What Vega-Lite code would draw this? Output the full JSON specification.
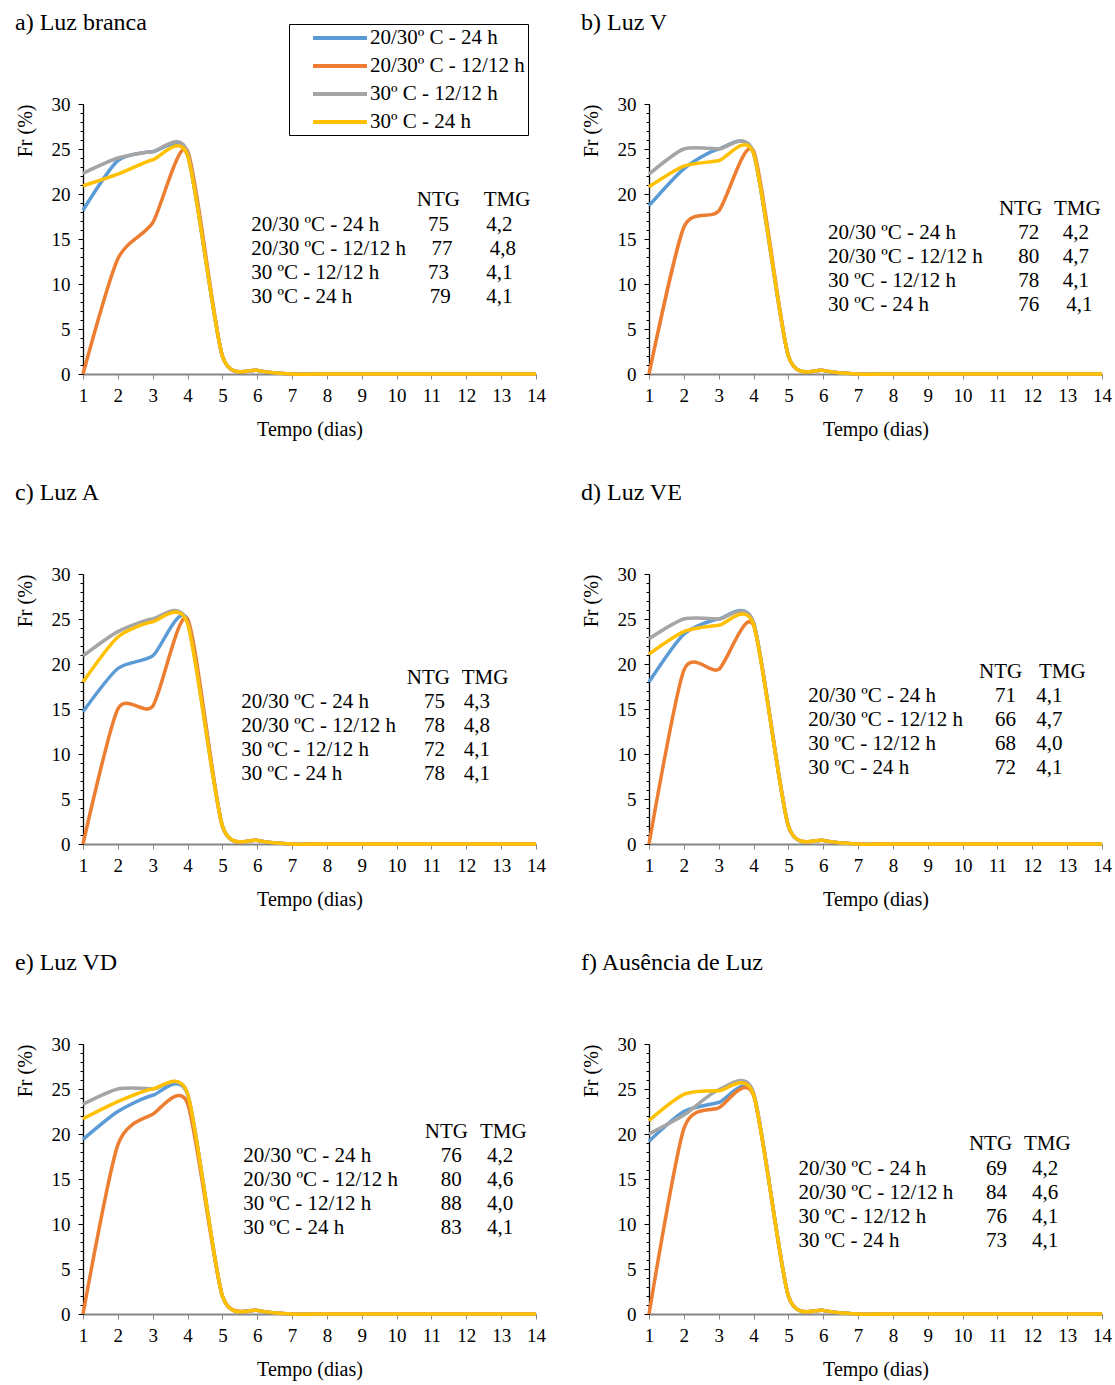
{
"$schema": "https://vega.github.io/schema/vega-lite/v6.json",
"background": "white",
"padding": {"left": 15, "top": 10, "right": 5, "bottom": 2},
"datasets": {
"lines": [
{"p":"a","d":1,"B":18.2,"O":0,"G":22.3,"Y":20.9},{"p":"a","d":2,"B":23.7,"O":12.8,"G":24.0,"Y":22.2},{"p":"a","d":3,"B":24.7,"O":16.8,"G":24.7,"Y":23.8},{"p":"a","d":4,"B":24.3,"O":24.8,"G":24.6,"Y":24.3},{"p":"a","d":5,"B":2.0,"O":2.0,"G":2.0,"Y":2.0},{"p":"a","d":6,"B":0.4,"O":0.4,"G":0.4,"Y":0.4},{"p":"a","d":7,"B":0,"O":0,"G":0,"Y":0},{"p":"a","d":8,"B":0,"O":0,"G":0,"Y":0},{"p":"a","d":9,"B":0,"O":0,"G":0,"Y":0},{"p":"a","d":10,"B":0,"O":0,"G":0,"Y":0},{"p":"a","d":11,"B":0,"O":0,"G":0,"Y":0},{"p":"a","d":12,"B":0,"O":0,"G":0,"Y":0},{"p":"a","d":13,"B":0,"O":0,"G":0,"Y":0},{"p":"a","d":14,"B":0,"O":0,"G":0,"Y":0},
{"p":"b","d":1,"B":18.7,"O":0,"G":22.2,"Y":20.8},{"p":"b","d":2,"B":22.8,"O":16.3,"G":25.0,"Y":23.1},{"p":"b","d":3,"B":25.0,"O":18.1,"G":25.0,"Y":23.7},{"p":"b","d":4,"B":24.5,"O":24.8,"G":24.6,"Y":24.5},{"p":"b","d":5,"B":2.0,"O":2.0,"G":2.0,"Y":2.0},{"p":"b","d":6,"B":0.4,"O":0.4,"G":0.4,"Y":0.4},{"p":"b","d":7,"B":0,"O":0,"G":0,"Y":0},{"p":"b","d":8,"B":0,"O":0,"G":0,"Y":0},{"p":"b","d":9,"B":0,"O":0,"G":0,"Y":0},{"p":"b","d":10,"B":0,"O":0,"G":0,"Y":0},{"p":"b","d":11,"B":0,"O":0,"G":0,"Y":0},{"p":"b","d":12,"B":0,"O":0,"G":0,"Y":0},{"p":"b","d":13,"B":0,"O":0,"G":0,"Y":0},{"p":"b","d":14,"B":0,"O":0,"G":0,"Y":0},
{"p":"c","d":1,"B":14.7,"O":0,"G":20.9,"Y":18.0},{"p":"c","d":2,"B":19.5,"O":15.0,"G":23.6,"Y":23.0},{"p":"c","d":3,"B":20.9,"O":15.3,"G":25.0,"Y":24.7},{"p":"c","d":4,"B":24.9,"O":25.0,"G":24.6,"Y":24.5},{"p":"c","d":5,"B":2.0,"O":2.0,"G":2.0,"Y":2.0},{"p":"c","d":6,"B":0.4,"O":0.4,"G":0.4,"Y":0.4},{"p":"c","d":7,"B":0,"O":0,"G":0,"Y":0},{"p":"c","d":8,"B":0,"O":0,"G":0,"Y":0},{"p":"c","d":9,"B":0,"O":0,"G":0,"Y":0},{"p":"c","d":10,"B":0,"O":0,"G":0,"Y":0},{"p":"c","d":11,"B":0,"O":0,"G":0,"Y":0},{"p":"c","d":12,"B":0,"O":0,"G":0,"Y":0},{"p":"c","d":13,"B":0,"O":0,"G":0,"Y":0},{"p":"c","d":14,"B":0,"O":0,"G":0,"Y":0},
{"p":"d","d":1,"B":18.0,"O":0,"G":22.8,"Y":21.1},{"p":"d","d":2,"B":23.3,"O":19.3,"G":25.0,"Y":23.6},{"p":"d","d":3,"B":25.0,"O":19.4,"G":25.0,"Y":24.3},{"p":"d","d":4,"B":24.6,"O":24.3,"G":24.6,"Y":24.4},{"p":"d","d":5,"B":2.0,"O":2.0,"G":2.0,"Y":2.0},{"p":"d","d":6,"B":0.4,"O":0.4,"G":0.4,"Y":0.4},{"p":"d","d":7,"B":0,"O":0,"G":0,"Y":0},{"p":"d","d":8,"B":0,"O":0,"G":0,"Y":0},{"p":"d","d":9,"B":0,"O":0,"G":0,"Y":0},{"p":"d","d":10,"B":0,"O":0,"G":0,"Y":0},{"p":"d","d":11,"B":0,"O":0,"G":0,"Y":0},{"p":"d","d":12,"B":0,"O":0,"G":0,"Y":0},{"p":"d","d":13,"B":0,"O":0,"G":0,"Y":0},{"p":"d","d":14,"B":0,"O":0,"G":0,"Y":0},
{"p":"e","d":1,"B":19.4,"O":0,"G":23.3,"Y":21.7},{"p":"e","d":2,"B":22.5,"O":18.8,"G":25.0,"Y":23.6},{"p":"e","d":3,"B":24.3,"O":22.2,"G":25.0,"Y":25.0},{"p":"e","d":4,"B":24.4,"O":23.4,"G":24.5,"Y":24.5},{"p":"e","d":5,"B":2.0,"O":2.0,"G":2.0,"Y":2.0},{"p":"e","d":6,"B":0.4,"O":0.4,"G":0.4,"Y":0.4},{"p":"e","d":7,"B":0,"O":0,"G":0,"Y":0},{"p":"e","d":8,"B":0,"O":0,"G":0,"Y":0},{"p":"e","d":9,"B":0,"O":0,"G":0,"Y":0},{"p":"e","d":10,"B":0,"O":0,"G":0,"Y":0},{"p":"e","d":11,"B":0,"O":0,"G":0,"Y":0},{"p":"e","d":12,"B":0,"O":0,"G":0,"Y":0},{"p":"e","d":13,"B":0,"O":0,"G":0,"Y":0},{"p":"e","d":14,"B":0,"O":0,"G":0,"Y":0},
{"p":"f","d":1,"B":19.2,"O":0,"G":20.0,"Y":21.5},{"p":"f","d":2,"B":22.5,"O":20.6,"G":22.1,"Y":24.4},{"p":"f","d":3,"B":23.5,"O":22.9,"G":24.9,"Y":24.8},{"p":"f","d":4,"B":24.4,"O":24.3,"G":24.6,"Y":24.4},{"p":"f","d":5,"B":2.0,"O":2.0,"G":2.0,"Y":2.0},{"p":"f","d":6,"B":0.4,"O":0.4,"G":0.4,"Y":0.4},{"p":"f","d":7,"B":0,"O":0,"G":0,"Y":0},{"p":"f","d":8,"B":0,"O":0,"G":0,"Y":0},{"p":"f","d":9,"B":0,"O":0,"G":0,"Y":0},{"p":"f","d":10,"B":0,"O":0,"G":0,"Y":0},{"p":"f","d":11,"B":0,"O":0,"G":0,"Y":0},{"p":"f","d":12,"B":0,"O":0,"G":0,"Y":0},{"p":"f","d":13,"B":0,"O":0,"G":0,"Y":0},{"p":"f","d":14,"B":0,"O":0,"G":0,"Y":0}
],
"tbl": [
{"p":"a","k":"N","x":11.2,"y":19.33,"t":"NTG"},{"p":"a","k":"N","x":13.17,"y":19.33,"t":"TMG"},
{"p":"a","k":"L","x":5.83,"y":16.56,"t":"20/30 ºC - 24 h"},{"p":"a","k":"L","x":5.83,"y":13.89,"t":"20/30 ºC - 12/12 h"},{"p":"a","k":"L","x":5.83,"y":11.22,"t":"30 ºC  - 12/12 h"},{"p":"a","k":"L","x":5.83,"y":8.56,"t":"30 ºC - 24 h"},
{"p":"a","k":"N","x":11.2,"y":16.56,"t":"75"},{"p":"a","k":"N","x":11.3,"y":13.89,"t":"77"},{"p":"a","k":"N","x":11.2,"y":11.22,"t":"73"},{"p":"a","k":"N","x":11.25,"y":8.56,"t":"79"},
{"p":"a","k":"N","x":12.95,"y":16.56,"t":"4,2"},{"p":"a","k":"N","x":13.05,"y":13.89,"t":"4,8"},{"p":"a","k":"N","x":12.95,"y":11.22,"t":"4,1"},{"p":"a","k":"N","x":12.95,"y":8.56,"t":"4,1"},
{"p":"b","k":"N","x":11.66,"y":18.33,"t":"NTG"},{"p":"b","k":"N","x":13.29,"y":18.33,"t":"TMG"},
{"p":"b","k":"L","x":6.14,"y":15.67,"t":"20/30 ºC - 24 h"},{"p":"b","k":"L","x":6.14,"y":13.0,"t":"20/30 ºC - 12/12 h"},{"p":"b","k":"L","x":6.14,"y":10.33,"t":"30 ºC  - 12/12 h"},{"p":"b","k":"L","x":6.14,"y":7.67,"t":"30 ºC - 24 h"},
{"p":"b","k":"N","x":11.9,"y":15.67,"t":"72"},{"p":"b","k":"N","x":11.9,"y":13.0,"t":"80"},{"p":"b","k":"N","x":11.9,"y":10.33,"t":"78"},{"p":"b","k":"N","x":11.9,"y":7.67,"t":"76"},
{"p":"b","k":"N","x":13.25,"y":15.67,"t":"4,2"},{"p":"b","k":"N","x":13.25,"y":13.0,"t":"4,7"},{"p":"b","k":"N","x":13.25,"y":10.33,"t":"4,1"},{"p":"b","k":"N","x":13.35,"y":7.67,"t":"4,1"},
{"p":"c","k":"N","x":10.91,"y":18.44,"t":"NTG"},{"p":"c","k":"N","x":12.54,"y":18.44,"t":"TMG"},
{"p":"c","k":"L","x":5.54,"y":15.78,"t":"20/30 ºC - 24 h"},{"p":"c","k":"L","x":5.54,"y":13.11,"t":"20/30 ºC - 12/12 h"},{"p":"c","k":"L","x":5.54,"y":10.44,"t":"30 ºC  - 12/12 h"},{"p":"c","k":"L","x":5.54,"y":7.78,"t":"30 ºC - 24 h"},
{"p":"c","k":"N","x":11.09,"y":15.78,"t":"75"},{"p":"c","k":"N","x":11.09,"y":13.11,"t":"78"},{"p":"c","k":"N","x":11.09,"y":10.44,"t":"72"},{"p":"c","k":"N","x":11.09,"y":7.78,"t":"78"},
{"p":"c","k":"N","x":12.3,"y":15.78,"t":"4,3"},{"p":"c","k":"N","x":12.3,"y":13.11,"t":"4,8"},{"p":"c","k":"N","x":12.3,"y":10.44,"t":"4,1"},{"p":"c","k":"N","x":12.3,"y":7.78,"t":"4,1"},
{"p":"d","k":"N","x":11.09,"y":19.11,"t":"NTG"},{"p":"d","k":"N","x":12.86,"y":19.11,"t":"TMG"},
{"p":"d","k":"L","x":5.57,"y":16.44,"t":"20/30 ºC - 24 h"},{"p":"d","k":"L","x":5.57,"y":13.78,"t":"20/30 ºC - 12/12 h"},{"p":"d","k":"L","x":5.57,"y":11.11,"t":"30 ºC  - 12/12 h"},{"p":"d","k":"L","x":5.57,"y":8.44,"t":"30 ºC - 24 h"},
{"p":"d","k":"N","x":11.23,"y":16.44,"t":"71"},{"p":"d","k":"N","x":11.23,"y":13.78,"t":"66"},{"p":"d","k":"N","x":11.23,"y":11.11,"t":"68"},{"p":"d","k":"N","x":11.23,"y":8.44,"t":"72"},
{"p":"d","k":"N","x":12.49,"y":16.44,"t":"4,1"},{"p":"d","k":"N","x":12.49,"y":13.78,"t":"4,7"},{"p":"d","k":"N","x":12.49,"y":11.11,"t":"4,0"},{"p":"d","k":"N","x":12.49,"y":8.44,"t":"4,1"},
{"p":"e","k":"N","x":11.43,"y":20.22,"t":"NTG"},{"p":"e","k":"N","x":13.06,"y":20.22,"t":"TMG"},
{"p":"e","k":"L","x":5.6,"y":17.56,"t":"20/30 ºC - 24 h"},{"p":"e","k":"L","x":5.6,"y":14.89,"t":"20/30 ºC - 12/12 h"},{"p":"e","k":"L","x":5.6,"y":12.22,"t":"30 ºC  - 12/12 h"},{"p":"e","k":"L","x":5.6,"y":9.56,"t":"30 ºC - 24 h"},
{"p":"e","k":"N","x":11.57,"y":17.56,"t":"76"},{"p":"e","k":"N","x":11.57,"y":14.89,"t":"80"},{"p":"e","k":"N","x":11.57,"y":12.22,"t":"88"},{"p":"e","k":"N","x":11.57,"y":9.56,"t":"83"},
{"p":"e","k":"N","x":12.97,"y":17.56,"t":"4,2"},{"p":"e","k":"N","x":12.97,"y":14.89,"t":"4,6"},{"p":"e","k":"N","x":12.97,"y":12.22,"t":"4,0"},{"p":"e","k":"N","x":12.97,"y":9.56,"t":"4,1"},
{"p":"f","k":"N","x":10.8,"y":18.89,"t":"NTG"},{"p":"f","k":"N","x":12.43,"y":18.89,"t":"TMG"},
{"p":"f","k":"L","x":5.29,"y":16.11,"t":"20/30 ºC - 24 h"},{"p":"f","k":"L","x":5.29,"y":13.44,"t":"20/30 ºC - 12/12 h"},{"p":"f","k":"L","x":5.29,"y":10.78,"t":"30 ºC  - 12/12 h"},{"p":"f","k":"L","x":5.29,"y":8.11,"t":"30 ºC - 24 h"},
{"p":"f","k":"N","x":10.97,"y":16.11,"t":"69"},{"p":"f","k":"N","x":10.97,"y":13.44,"t":"84"},{"p":"f","k":"N","x":10.97,"y":10.78,"t":"76"},{"p":"f","k":"N","x":10.97,"y":8.11,"t":"73"},
{"p":"f","k":"N","x":12.37,"y":16.11,"t":"4,2"},{"p":"f","k":"N","x":12.37,"y":13.44,"t":"4,6"},{"p":"f","k":"N","x":12.37,"y":10.78,"t":"4,1"},{"p":"f","k":"N","x":12.37,"y":8.11,"t":"4,1"}
]
},
"columns": 2,
"bounds": "flush",
"spacing": {"column": 113, "row": 200},
"resolve": {"scale": {"color": "independent"}, "legend": {"color": "independent"}},
"concat": [
{"width": 453, "height": 270, "title": {"text": "a) Luz branca", "offset": -11},
 "layer": [
  {"data": {"name": "lines"}, "transform": [{"filter": "datum.p=='a'"}, {"fold": ["B","O","G","Y"], "as": ["s","f"]}],
   "mark": {"type": "line", "interpolate": "cardinal", "tension": 0.3, "strokeWidth": 3.5},
   "encoding": {
    "x": {"field": "d", "type": "quantitative", "scale": {"domain": [1,14], "nice": false, "zero": false}, "axis": {"values": [1,2,3,4,5,6,7,8,9,10,11,12,13,14], "tickCount": 30, "format": "d", "title": "Tempo (dias)", "domainColor": "#868686", "domainWidth": 2, "tickColor": "#868686", "labelPadding": 7, "titlePadding": 14, "labelOverlap": false, "labelFlush": false}},
    "y": {"field": "f", "type": "quantitative", "scale": {"domain": [0,30], "nice": false}, "axis": {"values": [0,5,10,15,20,25,30], "tickCount": 10, "format": "d", "title": "Fr (%)", "titleAnchor": "end", "titlePadding": 16, "labelPadding": 8, "orient": "left"}},
    "color": {"field": "s", "type": "nominal", "scale": {"domain": ["B","O","G","Y"], "range": ["#5B9BD5","#ED7D31","#A5A5A5","#FFC000"]},
     "legend": {"orient": "none", "legendX": 206, "legendY": -80, "title": null, "symbolType": "M-3,0H3", "symbolSize": 324, "symbolStrokeWidth": 4, "labelFontSize": 21, "labelFont": "Liberation Serif", "labelColor": "#000", "strokeColor": "#000", "fillColor": "#fff", "padding": 3, "rowPadding": 7, "symbolOffset": 37, "labelOffset": 19,
      "labelExpr": "datum.label=='B' ? '20/30º C - 24 h' : datum.label=='O' ? '20/30º C - 12/12 h' : datum.label=='G' ? '30º C  - 12/12 h' : '30º C - 24 h'"}}
   }},
  {"data": {"name": "tbl"}, "transform": [{"filter": "datum.p=='a' && datum.k=='L'"}],
   "mark": {"type": "text", "align": "left", "baseline": "middle"},
   "encoding": {"x": {"field": "x", "type": "quantitative"}, "y": {"field": "y", "type": "quantitative", "scale": {"domain": [0,30], "nice": false}, "axis": {"values": [0,1,2,3,4,5,6,7,8,9,10,11,12,13,14,15,16,17,18,19,20,21,22,23,24,25,26,27,28,29,30], "tickCount": 60, "labels": false, "domain": false, "tickSize": 3, "title": null, "orient": "left"}}, "text": {"field": "t"}}},
  {"data": {"name": "tbl"}, "transform": [{"filter": "datum.p=='a' && datum.k=='N'"}],
   "mark": {"type": "text", "align": "center", "baseline": "middle"},
   "encoding": {"x": {"field": "x", "type": "quantitative"}, "y": {"field": "y", "type": "quantitative", "scale": {"domain": [0,30], "nice": false}, "axis": null}, "text": {"field": "t"}}}
 ],
 "resolve": {"scale": {"y": "independent"}, "axis": {"y": "independent"}}
},
{"width": 453, "height": 270, "title": {"text": "b) Luz V"},
 "layer": [
  {"data": {"name": "lines"}, "transform": [{"filter": "datum.p=='b'"}, {"fold": ["B","O","G","Y"], "as": ["s","f"]}],
   "mark": {"type": "line", "interpolate": "cardinal", "tension": 0.3, "strokeWidth": 3.5},
   "encoding": {
    "x": {"field": "d", "type": "quantitative", "scale": {"domain": [1,14], "nice": false, "zero": false}, "axis": {"values": [1,2,3,4,5,6,7,8,9,10,11,12,13,14], "tickCount": 30, "format": "d", "title": "Tempo (dias)", "domainColor": "#868686", "domainWidth": 2, "tickColor": "#868686", "labelPadding": 7, "titlePadding": 14, "labelOverlap": false, "labelFlush": false}},
    "y": {"field": "f", "type": "quantitative", "scale": {"domain": [0,30], "nice": false}, "axis": {"values": [0,5,10,15,20,25,30], "tickCount": 10, "format": "d", "title": "Fr (%)", "titleAnchor": "end", "titlePadding": 16, "labelPadding": 8, "orient": "left"}},
    "color": {"field": "s", "type": "nominal", "scale": {"domain": ["B","O","G","Y"], "range": ["#5B9BD5","#ED7D31","#A5A5A5","#FFC000"]}, "legend": null}
   }},
  {"data": {"name": "tbl"}, "transform": [{"filter": "datum.p=='b' && datum.k=='L'"}],
   "mark": {"type": "text", "align": "left", "baseline": "middle"},
   "encoding": {"x": {"field": "x", "type": "quantitative"}, "y": {"field": "y", "type": "quantitative", "scale": {"domain": [0,30], "nice": false}, "axis": {"values": [0,1,2,3,4,5,6,7,8,9,10,11,12,13,14,15,16,17,18,19,20,21,22,23,24,25,26,27,28,29,30], "tickCount": 60, "labels": false, "domain": false, "tickSize": 3, "title": null, "orient": "left"}}, "text": {"field": "t"}}},
  {"data": {"name": "tbl"}, "transform": [{"filter": "datum.p=='b' && datum.k=='N'"}],
   "mark": {"type": "text", "align": "center", "baseline": "middle"},
   "encoding": {"x": {"field": "x", "type": "quantitative"}, "y": {"field": "y", "type": "quantitative", "scale": {"domain": [0,30], "nice": false}, "axis": null}, "text": {"field": "t"}}}
 ],
 "resolve": {"scale": {"y": "independent"}, "axis": {"y": "independent"}}
},
{"width": 453, "height": 270, "title": {"text": "c) Luz A"},
 "layer": [
  {"data": {"name": "lines"}, "transform": [{"filter": "datum.p=='c'"}, {"fold": ["B","O","G","Y"], "as": ["s","f"]}],
   "mark": {"type": "line", "interpolate": "cardinal", "tension": 0.3, "strokeWidth": 3.5},
   "encoding": {
    "x": {"field": "d", "type": "quantitative", "scale": {"domain": [1,14], "nice": false, "zero": false}, "axis": {"values": [1,2,3,4,5,6,7,8,9,10,11,12,13,14], "tickCount": 30, "format": "d", "title": "Tempo (dias)", "domainColor": "#868686", "domainWidth": 2, "tickColor": "#868686", "labelPadding": 7, "titlePadding": 14, "labelOverlap": false, "labelFlush": false}},
    "y": {"field": "f", "type": "quantitative", "scale": {"domain": [0,30], "nice": false}, "axis": {"values": [0,5,10,15,20,25,30], "tickCount": 10, "format": "d", "title": "Fr (%)", "titleAnchor": "end", "titlePadding": 16, "labelPadding": 8, "orient": "left"}},
    "color": {"field": "s", "type": "nominal", "scale": {"domain": ["B","O","G","Y"], "range": ["#5B9BD5","#ED7D31","#A5A5A5","#FFC000"]}, "legend": null}
   }},
  {"data": {"name": "tbl"}, "transform": [{"filter": "datum.p=='c' && datum.k=='L'"}],
   "mark": {"type": "text", "align": "left", "baseline": "middle"},
   "encoding": {"x": {"field": "x", "type": "quantitative"}, "y": {"field": "y", "type": "quantitative", "scale": {"domain": [0,30], "nice": false}, "axis": {"values": [0,1,2,3,4,5,6,7,8,9,10,11,12,13,14,15,16,17,18,19,20,21,22,23,24,25,26,27,28,29,30], "tickCount": 60, "labels": false, "domain": false, "tickSize": 3, "title": null, "orient": "left"}}, "text": {"field": "t"}}},
  {"data": {"name": "tbl"}, "transform": [{"filter": "datum.p=='c' && datum.k=='N'"}],
   "mark": {"type": "text", "align": "center", "baseline": "middle"},
   "encoding": {"x": {"field": "x", "type": "quantitative"}, "y": {"field": "y", "type": "quantitative", "scale": {"domain": [0,30], "nice": false}, "axis": null}, "text": {"field": "t"}}}
 ],
 "resolve": {"scale": {"y": "independent"}, "axis": {"y": "independent"}}
},
{"width": 453, "height": 270, "title": {"text": "d) Luz VE"},
 "layer": [
  {"data": {"name": "lines"}, "transform": [{"filter": "datum.p=='d'"}, {"fold": ["B","O","G","Y"], "as": ["s","f"]}],
   "mark": {"type": "line", "interpolate": "cardinal", "tension": 0.3, "strokeWidth": 3.5},
   "encoding": {
    "x": {"field": "d", "type": "quantitative", "scale": {"domain": [1,14], "nice": false, "zero": false}, "axis": {"values": [1,2,3,4,5,6,7,8,9,10,11,12,13,14], "tickCount": 30, "format": "d", "title": "Tempo (dias)", "domainColor": "#868686", "domainWidth": 2, "tickColor": "#868686", "labelPadding": 7, "titlePadding": 14, "labelOverlap": false, "labelFlush": false}},
    "y": {"field": "f", "type": "quantitative", "scale": {"domain": [0,30], "nice": false}, "axis": {"values": [0,5,10,15,20,25,30], "tickCount": 10, "format": "d", "title": "Fr (%)", "titleAnchor": "end", "titlePadding": 16, "labelPadding": 8, "orient": "left"}},
    "color": {"field": "s", "type": "nominal", "scale": {"domain": ["B","O","G","Y"], "range": ["#5B9BD5","#ED7D31","#A5A5A5","#FFC000"]}, "legend": null}
   }},
  {"data": {"name": "tbl"}, "transform": [{"filter": "datum.p=='d' && datum.k=='L'"}],
   "mark": {"type": "text", "align": "left", "baseline": "middle"},
   "encoding": {"x": {"field": "x", "type": "quantitative"}, "y": {"field": "y", "type": "quantitative", "scale": {"domain": [0,30], "nice": false}, "axis": {"values": [0,1,2,3,4,5,6,7,8,9,10,11,12,13,14,15,16,17,18,19,20,21,22,23,24,25,26,27,28,29,30], "tickCount": 60, "labels": false, "domain": false, "tickSize": 3, "title": null, "orient": "left"}}, "text": {"field": "t"}}},
  {"data": {"name": "tbl"}, "transform": [{"filter": "datum.p=='d' && datum.k=='N'"}],
   "mark": {"type": "text", "align": "center", "baseline": "middle"},
   "encoding": {"x": {"field": "x", "type": "quantitative"}, "y": {"field": "y", "type": "quantitative", "scale": {"domain": [0,30], "nice": false}, "axis": null}, "text": {"field": "t"}}}
 ],
 "resolve": {"scale": {"y": "independent"}, "axis": {"y": "independent"}}
},
{"width": 453, "height": 270, "title": {"text": "e) Luz VD"},
 "layer": [
  {"data": {"name": "lines"}, "transform": [{"filter": "datum.p=='e'"}, {"fold": ["B","O","G","Y"], "as": ["s","f"]}],
   "mark": {"type": "line", "interpolate": "cardinal", "tension": 0.3, "strokeWidth": 3.5},
   "encoding": {
    "x": {"field": "d", "type": "quantitative", "scale": {"domain": [1,14], "nice": false, "zero": false}, "axis": {"values": [1,2,3,4,5,6,7,8,9,10,11,12,13,14], "tickCount": 30, "format": "d", "title": "Tempo (dias)", "domainColor": "#868686", "domainWidth": 2, "tickColor": "#868686", "labelPadding": 7, "titlePadding": 14, "labelOverlap": false, "labelFlush": false}},
    "y": {"field": "f", "type": "quantitative", "scale": {"domain": [0,30], "nice": false}, "axis": {"values": [0,5,10,15,20,25,30], "tickCount": 10, "format": "d", "title": "Fr (%)", "titleAnchor": "end", "titlePadding": 16, "labelPadding": 8, "orient": "left"}},
    "color": {"field": "s", "type": "nominal", "scale": {"domain": ["B","O","G","Y"], "range": ["#5B9BD5","#ED7D31","#A5A5A5","#FFC000"]}, "legend": null}
   }},
  {"data": {"name": "tbl"}, "transform": [{"filter": "datum.p=='e' && datum.k=='L'"}],
   "mark": {"type": "text", "align": "left", "baseline": "middle"},
   "encoding": {"x": {"field": "x", "type": "quantitative"}, "y": {"field": "y", "type": "quantitative", "scale": {"domain": [0,30], "nice": false}, "axis": {"values": [0,1,2,3,4,5,6,7,8,9,10,11,12,13,14,15,16,17,18,19,20,21,22,23,24,25,26,27,28,29,30], "tickCount": 60, "labels": false, "domain": false, "tickSize": 3, "title": null, "orient": "left"}}, "text": {"field": "t"}}},
  {"data": {"name": "tbl"}, "transform": [{"filter": "datum.p=='e' && datum.k=='N'"}],
   "mark": {"type": "text", "align": "center", "baseline": "middle"},
   "encoding": {"x": {"field": "x", "type": "quantitative"}, "y": {"field": "y", "type": "quantitative", "scale": {"domain": [0,30], "nice": false}, "axis": null}, "text": {"field": "t"}}}
 ],
 "resolve": {"scale": {"y": "independent"}, "axis": {"y": "independent"}}
},
{"width": 453, "height": 270, "title": {"text": "f) Ausência de Luz"},
 "layer": [
  {"data": {"name": "lines"}, "transform": [{"filter": "datum.p=='f'"}, {"fold": ["B","O","G","Y"], "as": ["s","f"]}],
   "mark": {"type": "line", "interpolate": "cardinal", "tension": 0.3, "strokeWidth": 3.5},
   "encoding": {
    "x": {"field": "d", "type": "quantitative", "scale": {"domain": [1,14], "nice": false, "zero": false}, "axis": {"values": [1,2,3,4,5,6,7,8,9,10,11,12,13,14], "tickCount": 30, "format": "d", "title": "Tempo (dias)", "domainColor": "#868686", "domainWidth": 2, "tickColor": "#868686", "labelPadding": 7, "titlePadding": 14, "labelOverlap": false, "labelFlush": false}},
    "y": {"field": "f", "type": "quantitative", "scale": {"domain": [0,30], "nice": false}, "axis": {"values": [0,5,10,15,20,25,30], "tickCount": 10, "format": "d", "title": "Fr (%)", "titleAnchor": "end", "titlePadding": 16, "labelPadding": 8, "orient": "left"}},
    "color": {"field": "s", "type": "nominal", "scale": {"domain": ["B","O","G","Y"], "range": ["#5B9BD5","#ED7D31","#A5A5A5","#FFC000"]}, "legend": null}
   }},
  {"data": {"name": "tbl"}, "transform": [{"filter": "datum.p=='f' && datum.k=='L'"}],
   "mark": {"type": "text", "align": "left", "baseline": "middle"},
   "encoding": {"x": {"field": "x", "type": "quantitative"}, "y": {"field": "y", "type": "quantitative", "scale": {"domain": [0,30], "nice": false}, "axis": {"values": [0,1,2,3,4,5,6,7,8,9,10,11,12,13,14,15,16,17,18,19,20,21,22,23,24,25,26,27,28,29,30], "tickCount": 60, "labels": false, "domain": false, "tickSize": 3, "title": null, "orient": "left"}}, "text": {"field": "t"}}},
  {"data": {"name": "tbl"}, "transform": [{"filter": "datum.p=='f' && datum.k=='N'"}],
   "mark": {"type": "text", "align": "center", "baseline": "middle"},
   "encoding": {"x": {"field": "x", "type": "quantitative"}, "y": {"field": "y", "type": "quantitative", "scale": {"domain": [0,30], "nice": false}, "axis": null}, "text": {"field": "t"}}}
 ],
 "resolve": {"scale": {"y": "independent"}, "axis": {"y": "independent"}}
}
],
"config": {
 "font": "Liberation Serif",
 "view": {"stroke": null},
 "axis": {"labelFont": "Liberation Serif", "labelFontSize": 19, "labelColor": "#000", "titleFont": "Liberation Serif", "titleFontSize": 20, "titleFontWeight": "normal", "titleColor": "#000", "grid": false, "tickColor": "#000", "domainColor": "#000", "tickSize": 5, "domainWidth": 1.3, "tickWidth": 1},
 "title": {"font": "Liberation Serif", "fontSize": 24, "fontWeight": "normal", "anchor": "start", "frame": "bounds", "color": "#000", "offset": 60},
 "text": {"font": "Liberation Serif", "fontSize": 21, "color": "#000"}
}
}
